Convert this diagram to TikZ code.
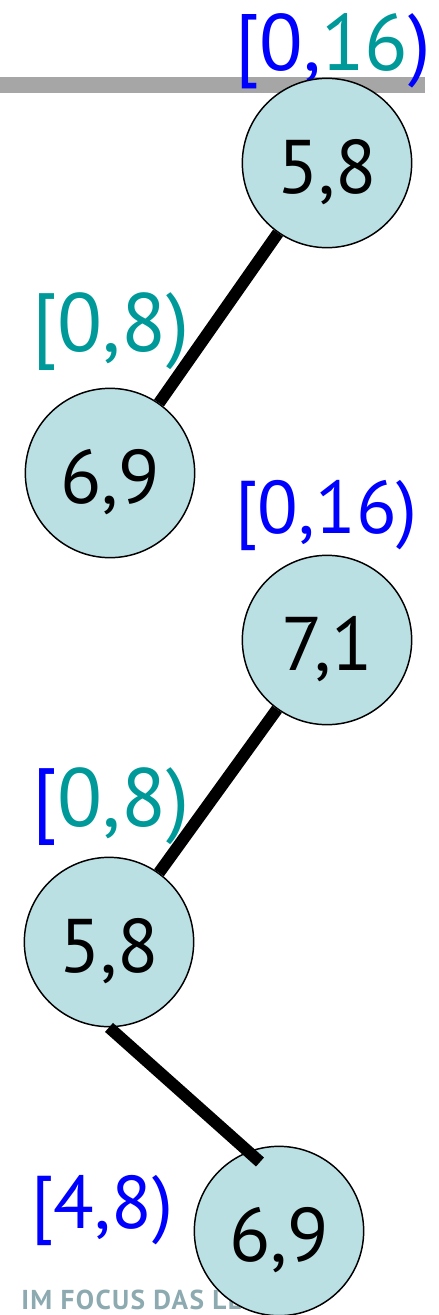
\documentclass[tikz,border=0pt]{standalone}
\usepackage{fontspec}
\setmainfont{PT Sans}
\usetikzlibrary{positioning}
\definecolor{keyblue}{RGB}{0,0,255}
\definecolor{keyteal}{RGB}{0,153,153}
\definecolor{nodefill}{RGB}{186,224,228}
\definecolor{bargray}{RGB}{166,166,166}
\definecolor{slogangray}{RGB}{140,170,176}

\begin{document}
\begin{tikzpicture}[x=0.75pt, y=-0.75pt,
        treenode/.style={circle, draw, fill=nodefill, line width=1.1pt, minimum size=127pt, inner sep=0pt, text height=53pt, text depth=8pt, font=\fontsize{57}{60}\selectfont},
        interval/.style={anchor=base west, inner sep=0pt, font=\fontsize{56}{60}\selectfont},
        edge/.style={line width=9pt}
    ]
    \useasboundingbox (0,0) rectangle (439,1315);

    % Slogan and bar
    \node[anchor=base west, inner sep=0pt, text=slogangray, font=\bfseries\fontsize{20.5}{24}\selectfont\addfontfeatures{LetterSpace=5}] (slogan) at (21,1309) {IM FOCUS DAS LEBEN};
    \fill[bargray] (0,77) rectangle (425,93);

    % Intervals
    \node[interval, font=\fontsize{60}{64}\selectfont] (ia1) at (235,70) {\textcolor{keyblue}{[0,}\textcolor{keyteal}{16}\textcolor{keyblue}{)}};
    \node[interval, text=keyteal, font=\fontsize{62}{66}\selectfont] (ia2) at (32,351) {[0,8)};
    \node[interval, text=keyblue] (ib1) at (235,533) {[0,16)};
    \node[interval, font=\fontsize{62}{66}\selectfont] (ib2) at (32,826) {\textcolor{keyblue}{[}\textcolor{keyteal}{0,8)}};
    \node[interval, text=keyblue] (ib3) at (31,1228) {[4,8)};

    % Tree nodes
    \node[treenode] (a1) at (327,163) {5,8};
    \node[treenode] (a2) at (110,473) {6,9};
    \node[treenode] (b1) at (327,640) {7,1};
    \node[treenode] (b2) at (109,942) {5,8};
    \node[treenode] (b3) at (279,1231) {6,9};
    \coordinate (b3top) at (260,1162);

    % Edges
    \draw[edge] (a1) -- (a2);
    \draw[edge] (b1) -- (b2);
    \draw[edge] (b2.south) -- (b3top);

\end{tikzpicture}
\end{document}
